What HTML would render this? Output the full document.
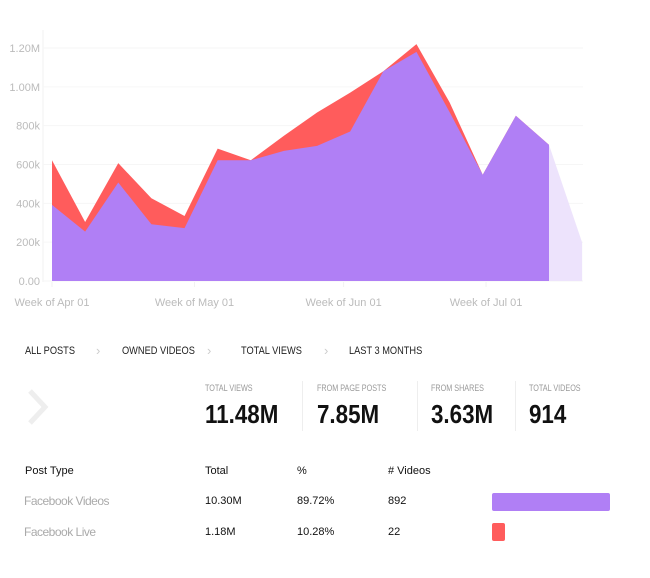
<!DOCTYPE html>
<html><head><meta charset="utf-8">
<style>
body{margin:0;width:650px;height:578px;background:#fff;font-family:"Liberation Sans",sans-serif;position:relative;overflow:hidden}
.abs{position:absolute;white-space:nowrap}
.crumb{font-size:11px;color:#222;top:345px;transform:scaleX(0.84);transform-origin:0 0}
.sep{color:#ccc;font-size:13px;top:343px}
.slab{font-size:9.5px;color:#999;top:383px;transform:scaleX(0.76);transform-origin:0 0}
.snum{font-weight:bold;font-size:26px;color:#111;top:399px;transform:scaleX(0.86);transform-origin:0 0}
.div{width:1px;height:50px;background:#eee;top:381px}
.th{font-size:11px;color:#111;top:465px}
.td{font-size:11px;color:#111}
.tl{font-size:12px;color:#aaa;letter-spacing:-0.5px}
</style></head><body>
<svg id="chart" width="650" height="320" style="position:absolute;left:0;top:0"></svg>

<div class="abs crumb" style="left:25px">ALL POSTS</div>
<div class="abs sep" style="left:96px">&#x203A;</div>
<div class="abs crumb" style="left:122px">OWNED VIDEOS</div>
<div class="abs sep" style="left:207px">&#x203A;</div>
<div class="abs crumb" style="left:241px">TOTAL VIEWS</div>
<div class="abs sep" style="left:324px">&#x203A;</div>
<div class="abs crumb" style="left:349px">LAST 3 MONTHS</div>

<svg class="abs" style="left:24px;top:388px" width="30" height="40"><polyline points="6,3 21,19 6,35" fill="none" stroke="#eee" stroke-width="5"/></svg>

<div class="abs slab" style="left:205px">TOTAL VIEWS</div>
<div class="abs snum" style="left:205px">11.48M</div>
<div class="abs div" style="left:302px"></div>
<div class="abs slab" style="left:317px">FROM PAGE POSTS</div>
<div class="abs snum" style="left:317px">7.85M</div>
<div class="abs div" style="left:417px"></div>
<div class="abs slab" style="left:431px">FROM SHARES</div>
<div class="abs snum" style="left:431px">3.63M</div>
<div class="abs div" style="left:515px"></div>
<div class="abs slab" style="left:529px">TOTAL VIDEOS</div>
<div class="abs snum" style="left:529px">914</div>

<div class="abs th" style="left:25px">Post Type</div>
<div class="abs th" style="left:205px">Total</div>
<div class="abs th" style="left:297px">%</div>
<div class="abs th" style="left:388px"># Videos</div>

<div class="abs tl" style="left:24px;top:494px">Facebook Videos</div>
<div class="abs td" style="left:205px;top:495px">10.30M</div>
<div class="abs td" style="left:297px;top:495px">89.72%</div>
<div class="abs td" style="left:388px;top:495px">892</div>
<div class="abs" style="left:492px;top:493px;width:118px;height:18px;background:#b07ff5;border-radius:2px"></div>

<div class="abs tl" style="left:24px;top:525px">Facebook Live</div>
<div class="abs td" style="left:205px;top:526px">1.18M</div>
<div class="abs td" style="left:297px;top:526px">10.28%</div>
<div class="abs td" style="left:388px;top:526px">22</div>
<div class="abs" style="left:492px;top:523px;width:13px;height:18px;background:#ff5c5c;border-radius:2px"></div>

<script>
const weeks = [0,1,2,3,4,5,6,7,8,9,10,11,12,13,14,15,16];
const videoViews = [0.392,0.254,0.507,0.292,0.272,0.622,0.622,0.67,0.696,0.77,1.08,1.18,0.87,0.547,0.851,0.701,0.198];
const liveViews = [0.23,0.05,0.10,0.134,0.063,0.06,0,0.078,0.172,0.2,0,0.04,0.05,0,0,0,0];
const yTicks = [0,0.2,0.4,0.6,0.8,1.0,1.2];
const yTickLabels = ["0.00","200k","400k","600k","800k","1.00M","1.20M"];
const xTickWeeks = [0,4.3,8.8,13.1];
const xTickLabels = ["Week of Apr 01","Week of May 01","Week of Jun 01","Week of Jul 01"];
const lastSolid = 15;

const NS="http://www.w3.org/2000/svg";
const svg=document.getElementById('chart');
const X=i=>52+i*(549-52)/15;
const Y=v=>281-v*(281-48)/1.2;
function mk(t,a){const e=document.createElementNS(NS,t);for(const k in a)e.setAttribute(k,a[k]);svg.appendChild(e);return e;}

const yAxis=mk('line',{x1:43,x2:43,y1:30,y2:282,stroke:'#f2f2f2'});


yTicks.forEach((t,i)=>{
  const g=mk('line',{x1:43,x2:583,y1:Y(t),y2:Y(t),stroke:'#f6f6f6'});
  
  
  const l=mk('text',{x:40,y:Y(t)+4,'text-anchor':'end','font-size':'11','fill':'#bbb','font-family':'Liberation Sans, sans-serif'});
  l.textContent=yTickLabels[i];
  
  
});
const totals=videoViews.map((v,i)=>v+liveViews[i]);
const solid=weeks.filter(i=>i<=lastSolid);
let d='M'+X(0)+','+Y(0)+solid.map(i=>' L'+X(i)+','+Y(totals[i])).join('')+' L'+X(lastSolid)+','+Y(0)+'Z';
const red=mk('path',{d:d,fill:'#ff5c5c'});


d='M'+X(0)+','+Y(0)+solid.map(i=>' L'+X(i)+','+Y(videoViews[i])).join('')+' L'+X(lastSolid)+','+Y(0)+'Z';
const pur=mk('path',{d:d,fill:'#b07ff5'});


const li=weeks.length-1;
d='M'+X(lastSolid)+','+Y(0)+' L'+X(lastSolid)+','+Y(totals[lastSolid])+' L'+X(li)+','+Y(totals[li])+' L'+X(li)+','+Y(0)+'Z';
const fade=mk('path',{d:d,fill:'#ede3fc'});


xTickWeeks.forEach((w,i)=>{
  const t=mk('line',{x1:X(w),x2:X(w),y1:282,y2:287,stroke:'#f2f2f2'});
  
  
  const l=mk('text',{x:X(w),y:306,'text-anchor':'middle','font-size':'11','fill':'#bbb','font-family':'Liberation Sans, sans-serif'});
  l.textContent=xTickLabels[i];
  
  
});
</script>
</body></html>
